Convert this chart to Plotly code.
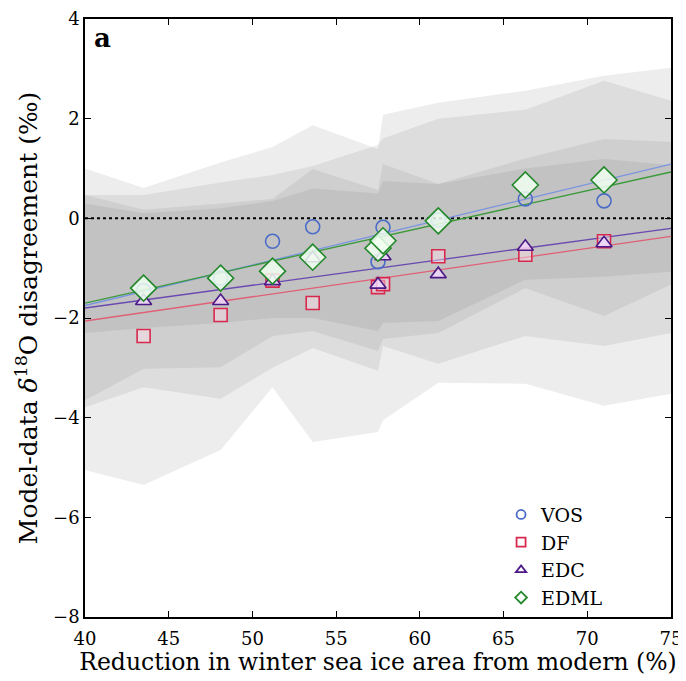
import plotly.graph_objects as go

# ---------------- data ----------------
x_cores = [43.5, 48.1, 51.2, 53.6, 57.5, 57.8, 61.1, 66.3, 71.0]
vos = [-1.45, -1.20, -0.46, -0.17, -0.87, -0.18, -0.03, 0.39, 0.35]
df_ = [-2.36, -1.94, -1.25, -1.70, -1.38, -1.32, -0.76, -0.73, -0.46]
edc = [-1.66, -1.66, -1.26, -0.80, -1.33, -0.76, -1.12, -0.57, -0.50]
edml = [-1.40, -1.20, -1.06, -0.78, -0.60, -0.45, -0.05, 0.67, 0.77]

# regression line end values at x = 40 and x = 75
fit_x = [40, 75]
fit_vos = [-1.75, 1.09]
fit_df = [-2.06, -0.36]
fit_edc = [-1.80, -0.20]
fit_edml = [-1.70, 0.93]

# model spread bands (upper / lower)
band_x = [40, 43.5, 48.1, 51.2, 53.6, 57.5, 57.8, 61.1, 66.3, 71.0, 75]
band_a_up = [1.00, 0.61, 1.12, 1.43, 1.87, 1.39, 2.08, 2.32, 2.56, 2.86, 3.02]
band_a_lo = [-5.05, -5.35, -4.65, -3.39, -4.49, -4.29, -4.05, -3.30, -3.32, -3.76, -3.52]
band_b_up = [0.47, 0.47, 0.72, 0.87, 1.05, 1.47, 1.60, 2.00, 2.18, 2.76, 2.36]
band_b_lo = [-3.79, -3.39, -3.62, -3.00, -2.60, -3.06, -2.56, -2.92, -2.36, -2.56, -2.30]
band_c_up = [0.47, 0.17, 0.30, 0.39, 0.99, 0.57, 1.09, 0.69, 1.20, 1.59, 1.53]
band_c_lo = [-3.65, -3.02, -2.99, -2.36, -2.26, -2.66, -2.42, -2.30, -1.40, -1.96, -1.33]
band_d_up = [0.30, 0.10, 0.20, 0.35, 0.60, 0.50, 0.75, 0.69, 1.00, 1.19, 1.07]
band_d_lo = [-2.30, -2.20, -2.10, -2.00, -2.00, -2.26, -2.10, -2.06, -1.23, -1.17, -1.07]

x_ticks = [40, 45, 50, 55, 60, 65, 70, 75]
y_ticks = [-8, -6, -4, -2, 0, 2, 4]

FONT = "DejaVu Serif"

fig = go.Figure()

band_fill = "rgba(110,110,110,0.12)"
for up, lo in [(band_a_up, band_a_lo), (band_b_up, band_b_lo),
               (band_c_up, band_c_lo), (band_d_up, band_d_lo)]:
    fig.add_trace(go.Scatter(
        x=band_x + band_x[::-1], y=up + lo[::-1],
        fill="toself", fillcolor=band_fill, line=dict(width=0),
        mode="lines", showlegend=False, hoverinfo="skip"))

# zero line
fig.add_trace(go.Scatter(x=[40, 75], y=[0, 0], mode="lines",
                         line=dict(color="black", width=2, dash="dot"),
                         showlegend=False, hoverinfo="skip"))

# regression lines
for yv, col in [(fit_df, "#e06075"), (fit_edc, "#6a4ab0"),
                (fit_vos, "#7a94e0"), (fit_edml, "#3a9a3a")]:
    fig.add_trace(go.Scatter(x=fit_x, y=yv, mode="lines",
                             line=dict(color=col, width=1.3),
                             showlegend=False, hoverinfo="skip"))

# markers
series = [
    ("VOS", vos, "circle", "#4a6cc8", "rgba(0,0,0,0)", 14),
    ("DF", df_, "square", "#d8284e", "rgba(255,225,235,0.45)", 13),
    ("EDC", edc, "triangle-up", "#4b1a86", "rgba(240,215,250,0.85)", 14),
    ("EDML", edml, "diamond", "#22882a", "rgba(240,255,240,0.85)", 20),
]
for name, yv, sym, col, fill, size in series:
    fig.add_trace(go.Scatter(
        x=x_cores, y=yv, mode="markers", name=name, showlegend=False,
        marker=dict(symbol=sym, size=size, color=fill,
                    line=dict(color=col, width=1.6))))
# small legend symbols (legend-only entries, no drawn points)
for name, yv, sym, col, fill, size in series:
    fig.add_trace(go.Scatter(
        x=[None], y=[None], mode="markers", name=name,
        marker=dict(symbol=sym, size=9, color="white",
                    line=dict(color=col, width=1.8))))

axis_common = dict(showline=True, linecolor="black", linewidth=1.5,
                   mirror="allticks", ticks="inside", ticklen=6,
                   tickwidth=1, tickcolor="black", showgrid=False,
                   zeroline=False, automargin=False, ticklabeloverflow="allow",
                   tickfont=dict(family=FONT, size=18, color="black"))

# page body adds an 8px offset; figure sized so the plot area lands where the reference has it
fig.update_layout(
    width=676, height=668,
    margin=dict(l=77, r=13, t=11, b=59),
    paper_bgcolor="white", plot_bgcolor="white",
    font=dict(family=FONT, color="black"),
    xaxis=dict(range=[40, 75], tickvals=x_ticks, ticklabelstandoff=5,
               title=dict(text="Reduction in winter sea ice area from modern (%)",
                          font=dict(family=FONT, size=23.5), standoff=2),
               **axis_common),
    yaxis=dict(range=[-8, 4], tickvals=y_ticks, ticklabelstandoff=0,
               title=dict(text="Model-data <i>δ</i><sup>18</sup>O disagreement (‰)",
                          font=dict(family=FONT, size=25), standoff=8),
               **axis_common),
    legend=dict(x=0.71, y=0.203, xanchor="left", yanchor="top",
                bgcolor="rgba(0,0,0,0)", borderwidth=0,
                font=dict(family=FONT, size=19, color="black"),
                itemwidth=30, tracegroupgap=0),
    showlegend=True,
    annotations=[dict(text="<b>a</b>", x=0.012, y=0.997, xref="paper", yref="paper",
                      xanchor="left", yanchor="top", showarrow=False,
                      font=dict(family=FONT, size=26, color="black"))],
)

fig.write_html("out.html")
